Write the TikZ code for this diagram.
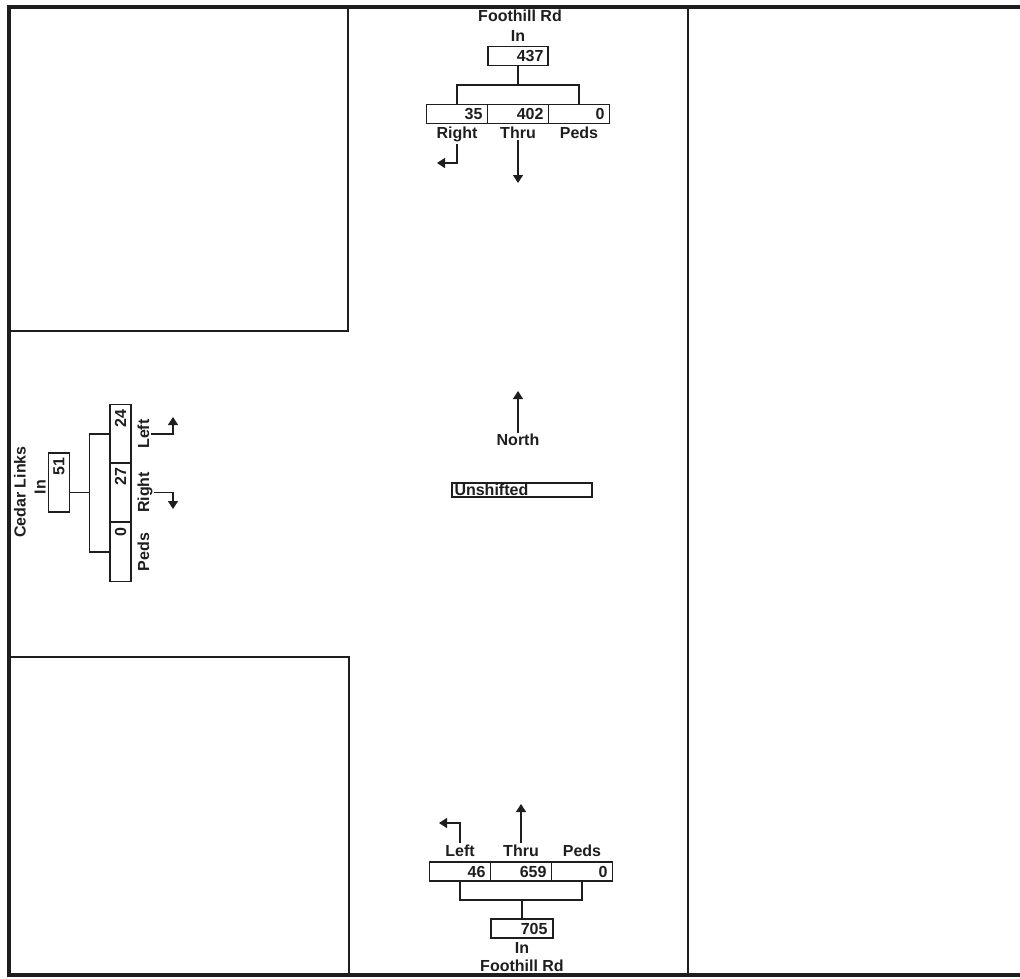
\documentclass[tikz,border=0pt]{standalone}
\usepackage{fontspec}
\setmainfont{Liberation Sans}
\usepackage{tikz}
\usetikzlibrary{arrows.meta, positioning, calc}
\definecolor{tinta}{RGB}{30,30,30}

\begin{document}
\begin{tikzpicture}[x=1pt, y=-1pt, line width=1.2pt, color=tinta,
    font=\fontsize{16}{19}\selectfont\bfseries,
    caja/.style={draw, outer sep=0pt, inner sep=0pt, minimum width=61pt,
      minimum height=19pt, text width=51pt, align=right},
    cajaV/.style={caja, rotate=90, minimum width=59pt, minimum height=21pt,
      text width=49pt},
    rotulo/.style={inner sep=1pt},
    flecha/.style={-{Triangle[length=8pt, width=10pt]}}]
  \useasboundingbox (0,0) rectangle (1020,978);

  % Marco y bordillos
  \draw[line width=3.5pt] (1020,7) -- (9,7) -- (9,975) -- (1020,975);
  \draw (348,7) -- (348,331) -- (9,331);
  \draw (9,657) -- (349,657) -- (349,975);
  \draw (688,7) -- (688,975);

  % Acceso norte
  \node[caja, minimum width=60pt] (nIn) at (518,56) {437};
  \node[rotulo] (nInL) at (518,36) {In};
  \node[rotulo] (nCalle) at (520,16) {Foothill Rd};
  \foreach \nombre/\x/\val/\txt in {nRight/457/35/Right, nThru/518/402/Thru,
                                    nPeds/579/0/Peds}{
    \node[caja] (\nombre) at (\x,114) {\val};
    \node[rotulo, below=2pt of \nombre] (\nombre-l) {\txt};
  }
  \coordinate (nMid) at ($(nIn.south)!0.5!(nIn.south |- nThru.north)$);
  \draw (nRight.north) |- (nMid) -| (nPeds.north);
  \draw (nIn.south) -- (nMid);
  \coordinate (nRightFin) at (437,163);
  \coordinate (nThruFin) at (518,183);
  \draw[flecha] (nRight-l.south) |- (nRightFin);
  \draw[flecha] (nThru-l.south) -- (nThruFin);

  % Acceso sur
  \node[caja, minimum width=62pt] (sIn) at (522,928.5) {705};
  \node[rotulo] (sInL) at (522,948) {In};
  \node[rotulo] (sCalle) at (522,966) {Foothill Rd};
  \foreach \nombre/\x/\val/\txt in {sLeft/460/46/Left, sThru/521/659/Thru,
                                    sPeds/582/0/Peds}{
    \node[caja] (\nombre) at (\x,871.5) {\val};
    \node[rotulo, above=4pt of \nombre] (\nombre-l) {\txt};
  }
  \coordinate (sMid) at ($(sIn.north)!0.5!(sIn.north |- sThru.south)$);
  \draw (sLeft.south) |- (sMid) -| (sPeds.south);
  \draw (sIn.north) -- (sMid);
  \coordinate (sLeftFin) at (439,823);
  \coordinate (sThruFin) at (521,804);
  \draw[flecha] (sLeft-l.north) |- (sLeftFin);
  \draw[flecha] (sThru-l.north) -- (sThruFin);

  % Acceso oeste
  \node[cajaV] (wIn) at (59,482.5) {51};
  \node[rotulo, rotate=90] (wInL) at (40,487) {In};
  \node[rotulo, rotate=90] (wCalle) at (20,492) {Cedar Links};
  \foreach \nombre/\y/\val/\txt in {wLeft/434/24/Left, wRight/492.5/27/Right,
                                    wPeds/552/0/Peds}{
    \node[cajaV] (\nombre) at (120.5,\y) {\val};
    \node[rotulo, rotate=90, anchor=north] (\nombre-l)
      at ($(\nombre.south)+(5,0)$) {\txt};
  }
  \coordinate (wMid) at ($(wIn.south |- wRight)!0.5!(wRight.north)$);
  \draw (wLeft.north) -| (wMid) |- (wPeds.north);
  \draw (wIn.south |- wRight) -- (wMid);
  \coordinate (wLeftFin) at (173,417);
  \coordinate (wRightFin) at (173,509);
  \draw[flecha] (wLeft-l.south) -| (wLeftFin);
  \draw[flecha] (wRight-l.south) -| (wRightFin);

  % Norte y ajuste
  \node[rotulo] (norte) at (518,440) {North};
  \coordinate (norteFin) at (518,391);
  \draw[flecha] (norte.north) -- (norteFin);
  \node[draw, outer sep=0pt, inner sep=0pt, minimum width=140pt,
    minimum height=14pt, text width=135pt, align=left] (turno) at (522,490)
    {Unshifted};
\end{tikzpicture}
\end{document}
